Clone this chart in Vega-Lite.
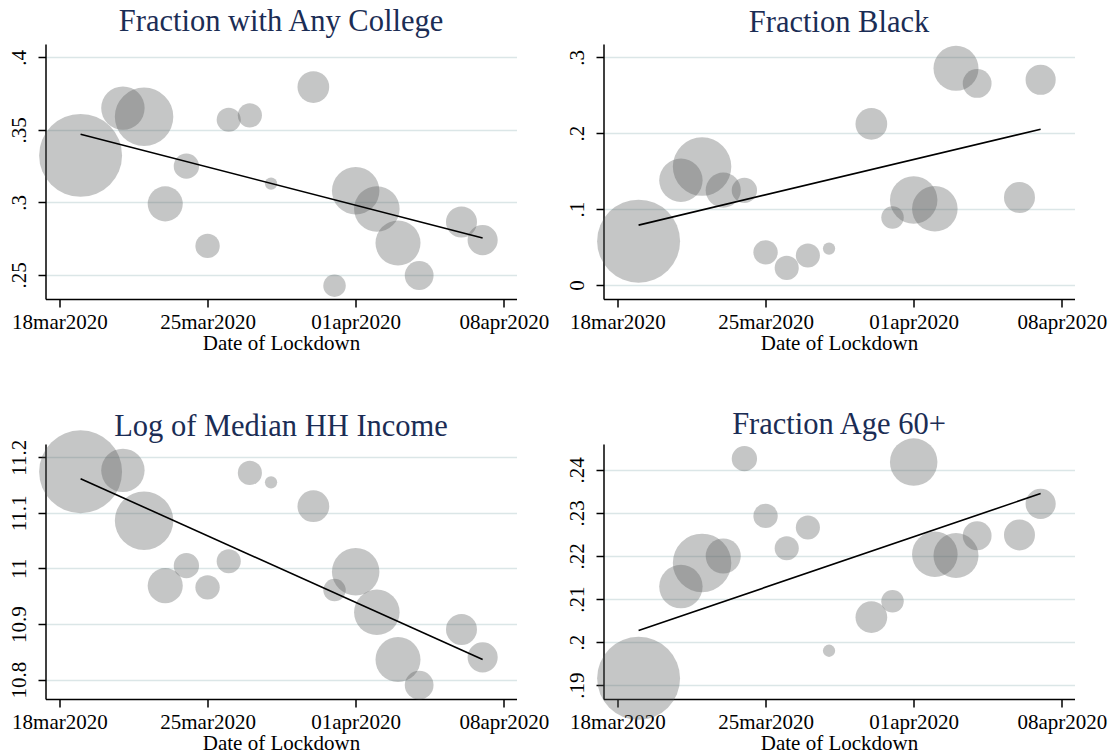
{
  "$schema": "https://vega.github.io/schema/vega-lite/v6.json",
  "background": "white",
  "padding": {"left": 7.5, "top": 6, "right": 5, "bottom": 5},
  "datasets": {
    "states": [
      {"date": "2020-03-19", "weight": 2190, "college": 0.3324, "black": 0.0577, "income": 11.174, "age60": 0.1916},
      {"date": "2020-03-21", "weight": 600, "college": 0.365, "black": 0.138, "income": 11.1766, "age60": 0.2129},
      {"date": "2020-03-22", "weight": 1089, "college": 0.359, "black": 0.156, "income": 11.086, "age60": 0.2184},
      {"date": "2020-03-23", "weight": 392, "college": 0.299, "black": 0.125, "income": 10.969, "age60": 0.22},
      {"date": "2020-03-24", "weight": 204, "college": 0.325, "black": 0.1247, "income": 11.005, "age60": 0.2426},
      {"date": "2020-03-25", "weight": 189, "college": 0.27, "black": 0.043, "income": 10.966, "age60": 0.2293},
      {"date": "2020-03-26", "weight": 185, "college": 0.357, "black": 0.0225, "income": 11.013, "age60": 0.2218},
      {"date": "2020-03-27", "weight": 185, "college": 0.36, "black": 0.0388, "income": 11.172, "age60": 0.2266},
      {"date": "2020-03-28", "weight": 48, "college": 0.313, "black": 0.048, "income": 11.155, "age60": 0.198},
      {"date": "2020-03-30", "weight": 320, "college": 0.3795, "black": 0.2123, "income": 11.112, "age60": 0.2058},
      {"date": "2020-03-31", "weight": 161, "college": 0.2426, "black": 0.089, "income": 10.961, "age60": 0.2095},
      {"date": "2020-04-01", "weight": 718, "college": 0.308, "black": 0.112, "income": 10.994, "age60": 0.2418},
      {"date": "2020-04-02", "weight": 660, "college": 0.2955, "black": 0.1004, "income": 10.921, "age60": 0.2204},
      {"date": "2020-04-03", "weight": 645, "college": 0.272, "black": 0.2855, "income": 10.836, "age60": 0.2201},
      {"date": "2020-04-04", "weight": 264, "college": 0.2496, "black": 0.2656, "income": 10.79, "age60": 0.2247},
      {"date": "2020-04-06", "weight": 306, "college": 0.2865, "black": 0.1154, "income": 10.89, "age60": 0.2249},
      {"date": "2020-04-07", "weight": 289, "college": 0.274, "black": 0.2705, "income": 10.84, "age60": 0.2321}
    ],
    "fits": [
      {"date": "2020-03-19", "college": 0.347, "black": 0.0789, "income": 11.1616, "age60": 0.2027},
      {"date": "2020-04-07", "college": 0.2754, "black": 0.2053, "income": 10.836, "age60": 0.2345}
    ]
  },
  "bounds": "flush",
  "columns": 2,
  "spacing": {"row": 145, "column": 87},
  "concat": [
    {
      "title": {"text": "Fraction with Any College"},
      "width": 471, "height": 255,
      "encoding": {
        "x": {"field": "date", "type": "temporal", "title": "Date of Lockdown",
          "scale": {"type": "utc", "domain": [{"year": 2020, "month": 3, "date": 17, "hours": 8, "minutes": 12, "utc": true}, {"year": 2020, "month": 4, "date": 8, "hours": 14, "minutes": 24, "utc": true}]},
          "axis": {"values": [{"year": 2020, "month": 3, "date": 18, "utc": true}, {"year": 2020, "month": 3, "date": 25, "utc": true}, {"year": 2020, "month": 4, "date": 1, "utc": true}, {"year": 2020, "month": 4, "date": 8, "utc": true}], "labelExpr": "lower(utcFormat(datum.value, '%d%b%Y'))"}},
        "y": {"field": "college", "type": "quantitative",
          "scale": {"domain": [0.2334, 0.4092], "nice": false, "zero": false},
          "axis": {"values": [0.25, 0.3, 0.35, 0.4], "labelExpr": "datum.value == 0 ? '0' : slice(format(datum.value, '.2~f'), 1)"}}
      },
      "layer": [
        {
          "data": {"name": "states"},
          "mark": {"type": "circle", "color": "#555958", "opacity": 0.34, "strokeWidth": 0},
          "encoding": {
            "size": {"field": "weight", "type": "quantitative", "scale": {"type": "linear", "domain": [0, 2190], "range": [0, 6880]}, "legend": null}
          }
        },
        {
          "data": {"name": "fits"},
          "mark": {"type": "line", "color": "black", "strokeWidth": 1.6},
          "encoding": {}
        }
      ]
    },
    {
      "title": {"text": "Fraction Black", "dy": 1},
      "width": 471, "height": 255,
      "encoding": {
        "x": {"field": "date", "type": "temporal", "title": "Date of Lockdown",
          "scale": {"type": "utc", "domain": [{"year": 2020, "month": 3, "date": 17, "hours": 8, "minutes": 12, "utc": true}, {"year": 2020, "month": 4, "date": 8, "hours": 14, "minutes": 24, "utc": true}]},
          "axis": {"values": [{"year": 2020, "month": 3, "date": 18, "utc": true}, {"year": 2020, "month": 3, "date": 25, "utc": true}, {"year": 2020, "month": 4, "date": 1, "utc": true}, {"year": 2020, "month": 4, "date": 8, "utc": true}], "labelExpr": "lower(utcFormat(datum.value, '%d%b%Y'))"}},
        "y": {"field": "black", "type": "quantitative",
          "scale": {"domain": [-0.0185, 0.3176], "nice": false, "zero": false},
          "axis": {"values": [0, 0.1, 0.2, 0.3], "labelExpr": "datum.value == 0 ? '0' : slice(format(datum.value, '.2~f'), 1)"}}
      },
      "layer": [
        {
          "data": {"name": "states"},
          "mark": {"type": "circle", "color": "#555958", "opacity": 0.34, "strokeWidth": 0},
          "encoding": {
            "size": {"field": "weight", "type": "quantitative", "scale": {"type": "linear", "domain": [0, 2190], "range": [0, 6880]}, "legend": null}
          }
        },
        {
          "data": {"name": "fits"},
          "mark": {"type": "line", "color": "black", "strokeWidth": 1.6},
          "encoding": {}
        }
      ]
    },
    {
      "title": {"text": "Log of Median HH Income", "dy": 19},
      "width": 471, "height": 255,
      "encoding": {
        "x": {"field": "date", "type": "temporal", "title": "Date of Lockdown",
          "scale": {"type": "utc", "domain": [{"year": 2020, "month": 3, "date": 17, "hours": 8, "minutes": 12, "utc": true}, {"year": 2020, "month": 4, "date": 8, "hours": 14, "minutes": 24, "utc": true}]},
          "axis": {"values": [{"year": 2020, "month": 3, "date": 18, "utc": true}, {"year": 2020, "month": 3, "date": 25, "utc": true}, {"year": 2020, "month": 4, "date": 1, "utc": true}, {"year": 2020, "month": 4, "date": 8, "utc": true}], "labelExpr": "lower(utcFormat(datum.value, '%d%b%Y'))"}},
        "y": {"field": "income", "type": "quantitative",
          "scale": {"domain": [10.765, 11.224], "nice": false, "zero": false},
          "axis": {"values": [10.8, 10.9, 11, 11.1, 11.2], "format": "~g"}}
      },
      "layer": [
        {
          "data": {"name": "states"},
          "mark": {"type": "circle", "color": "#555958", "opacity": 0.34, "strokeWidth": 0},
          "encoding": {
            "size": {"field": "weight", "type": "quantitative", "scale": {"type": "linear", "domain": [0, 2190], "range": [0, 6880]}, "legend": null}
          }
        },
        {
          "data": {"name": "fits"},
          "mark": {"type": "line", "color": "black", "strokeWidth": 1.6},
          "encoding": {}
        }
      ]
    },
    {
      "title": {"text": "Fraction Age 60+", "dy": 8.7},
      "width": 471, "height": 255,
      "encoding": {
        "x": {"field": "date", "type": "temporal", "title": "Date of Lockdown",
          "scale": {"type": "utc", "domain": [{"year": 2020, "month": 3, "date": 17, "hours": 8, "minutes": 12, "utc": true}, {"year": 2020, "month": 4, "date": 8, "hours": 14, "minutes": 24, "utc": true}]},
          "axis": {"values": [{"year": 2020, "month": 3, "date": 18, "utc": true}, {"year": 2020, "month": 3, "date": 25, "utc": true}, {"year": 2020, "month": 4, "date": 1, "utc": true}, {"year": 2020, "month": 4, "date": 8, "utc": true}], "labelExpr": "lower(utcFormat(datum.value, '%d%b%Y'))"}},
        "y": {"field": "age60", "type": "quantitative",
          "scale": {"domain": [0.1868, 0.246], "nice": false, "zero": false},
          "axis": {"values": [0.19, 0.2, 0.21, 0.22, 0.23, 0.24], "labelExpr": "datum.value == 0 ? '0' : slice(format(datum.value, '.2~f'), 1)"}}
      },
      "layer": [
        {
          "data": {"name": "states"},
          "mark": {"type": "circle", "color": "#555958", "opacity": 0.34, "strokeWidth": 0},
          "encoding": {
            "size": {"field": "weight", "type": "quantitative", "scale": {"type": "linear", "domain": [0, 2190], "range": [0, 6880]}, "legend": null}
          }
        },
        {
          "data": {"name": "fits"},
          "mark": {"type": "line", "color": "black", "strokeWidth": 1.6},
          "encoding": {}
        }
      ]
    }
  ],
  "config": {
    "font": "Liberation Serif",
    "view": {"stroke": null},
    "title": {"font": "Liberation Serif", "fontSize": 30.5, "fontWeight": "normal", "color": "#1b2d55", "frame": "group", "anchor": "middle", "baseline": "alphabetic", "offset": 7},
    "axis": {
      "domainColor": "black", "domainWidth": 1.5,
      "tickColor": "black", "tickWidth": 1.5,
      "labelFont": "Liberation Serif", "labelFontSize": 21, "labelColor": "black",
      "labelFlush": false, "labelOverlap": false, "labelBound": false,
      "titleFont": "Liberation Serif", "titleFontSize": 21, "titleColor": "black", "titleFontWeight": "normal",
      "gridColor": "#dbe6e7", "gridWidth": 1.5
    },
    "axisX": {"grid": false, "tickSize": 8, "labelPadding": 21.7, "labelBaseline": "alphabetic", "titleY": 50, "titleBaseline": "alphabetic"},
    "axisY": {"grid": true, "title": null, "tickSize": 7.5, "labelAngle": -90, "labelAlign": "center", "labelBaseline": "alphabetic", "labelPadding": 12.5}
  }
}
